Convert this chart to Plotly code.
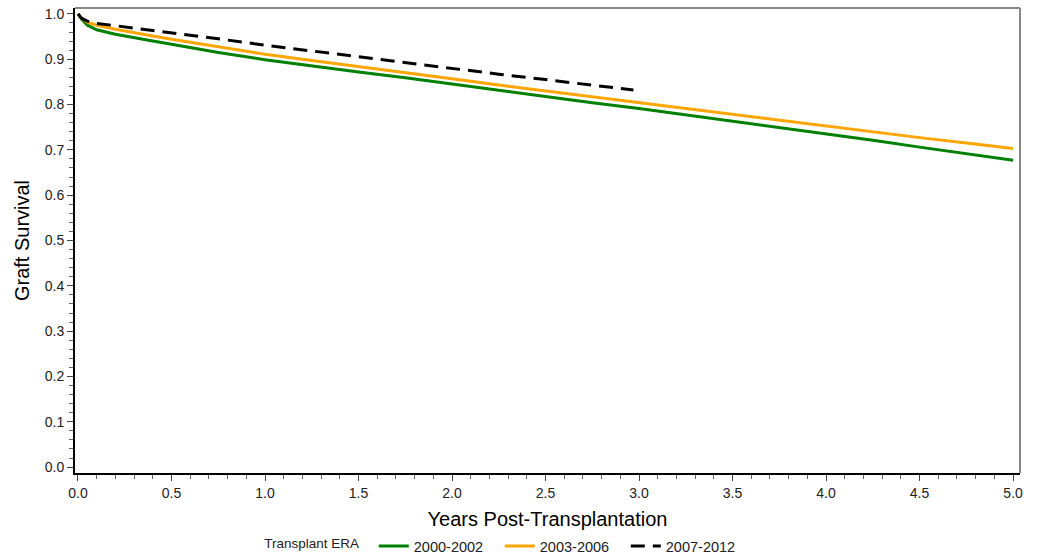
import plotly.graph_objects as go

# Years post-transplantation (time points)
t_full = [0, 0.02, 0.05, 0.1, 0.2, 0.3, 0.4, 0.5, 0.75, 1.0, 1.25, 1.5, 1.75, 2.0,
          2.25, 2.5, 2.75, 3.0, 3.25, 3.5, 3.75, 4.0, 4.25, 4.5, 4.75, 5.0]
t_short = [0, 0.02, 0.05, 0.1, 0.2, 0.3, 0.4, 0.5, 0.75, 1.0, 1.25, 1.5, 1.75, 2.0,
           2.25, 2.5, 2.75, 2.97]

# Graft survival per transplant era
era_2000_2002 = [1.0, 0.988, 0.975, 0.965, 0.955, 0.947, 0.940, 0.933, 0.915, 0.899,
                 0.885, 0.872, 0.859, 0.845, 0.831, 0.817, 0.804, 0.791, 0.777, 0.763,
                 0.750, 0.736, 0.721, 0.706, 0.692, 0.677]
era_2003_2006 = [1.0, 0.990, 0.982, 0.975, 0.966, 0.958, 0.951, 0.944, 0.927, 0.911,
                 0.897, 0.884, 0.871, 0.857, 0.843, 0.830, 0.817, 0.804, 0.791, 0.778,
                 0.765, 0.752, 0.740, 0.727, 0.715, 0.703]
era_2007_2012 = [1.0, 0.990, 0.984, 0.979, 0.974, 0.969, 0.964, 0.958, 0.945, 0.931,
                 0.918, 0.905, 0.892, 0.880, 0.867, 0.855, 0.843, 0.832]

x_ticks = [0.0, 0.5, 1.0, 1.5, 2.0, 2.5, 3.0, 3.5, 4.0, 4.5, 5.0]
y_ticks = [0.0, 0.1, 0.2, 0.3, 0.4, 0.5, 0.6, 0.7, 0.8, 0.9, 1.0]

FONT = "Arial, Liberation Sans, sans-serif"

fig = go.Figure()
fig.add_trace(go.Scatter(x=t_full, y=era_2000_2002, mode="lines", name="2000-2002",
                         line=dict(color="#008000", width=3)))
fig.add_trace(go.Scatter(x=t_full, y=era_2003_2006, mode="lines", name="2003-2006",
                         line=dict(color="#FFA500", width=3)))
fig.add_trace(go.Scatter(x=t_short, y=era_2007_2012, mode="lines", name="2007-2012",
                         line=dict(color="#000000", width=3, dash="14px,8px")))

fig.update_layout(
    width=1039, height=557,
    margin=dict(l=75, r=19, t=8, b=84, autoexpand=False),
    paper_bgcolor="white", plot_bgcolor="white",
    font=dict(family=FONT, color="#222222", size=14),
    showlegend=True,
    legend=dict(orientation="h", x=0.4574, xanchor="center", y=-0.157, yanchor="middle",
                title=dict(text="Transplant ERA  ", font=dict(size=13.5)),
                font=dict(size=14.5), itemwidth=30, entrywidth=81),
    shapes=[
        dict(type="line", xref="paper", yref="paper", x0=0, x1=1, y0=1, y1=1,
             line=dict(color="#888888", width=2)),
        dict(type="line", xref="paper", yref="paper", x0=1, x1=1, y0=0, y1=1,
             line=dict(color="#888888", width=2)),
    ],
)

fig.update_xaxes(
    range=[-0.016, 5.037], tickvals=x_ticks, tickformat=".1f",
    showgrid=False, zeroline=False, automargin=False,
    showline=True, linecolor="#000000", linewidth=2,
    ticks="outside", ticklen=6, tickcolor="#444444", tickwidth=1,
    minor=dict(dtick=0.1, ticks="outside", ticklen=4, tickcolor="#666666", showgrid=False),
    tickfont=dict(size=14, color="#222222"),
    title=dict(text="Years Post-Transplantation", font=dict(size=20, color="#000000"), standoff=12),
)
fig.update_yaxes(
    range=[-0.013, 1.013], tickvals=y_ticks, tickformat=".1f",
    showgrid=False, zeroline=False, automargin=False,
    showline=True, linecolor="#000000", linewidth=2,
    ticks="outside", ticklen=6, tickcolor="#444444", tickwidth=1,
    minor=dict(dtick=0.02, ticks="outside", ticklen=4, tickcolor="#666666", showgrid=False),
    tickfont=dict(size=14, color="#222222"),
    title=dict(text="Graft Survival", font=dict(size=20, color="#000000"), standoff=10),
)

fig.write_html("out.html")
